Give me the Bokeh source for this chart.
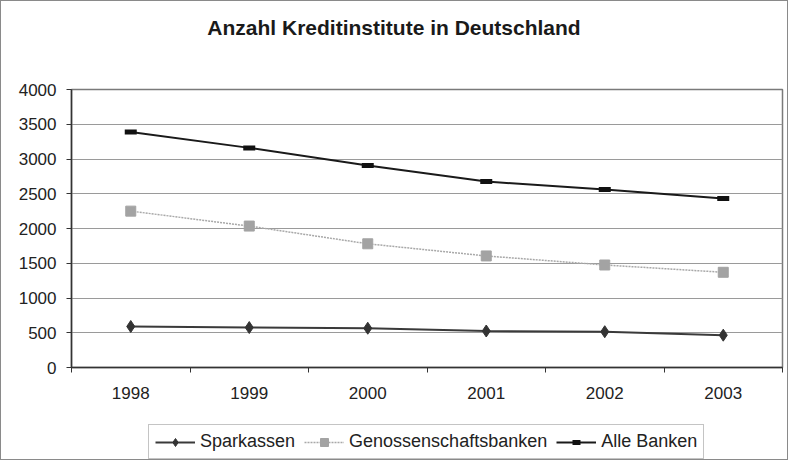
from bokeh.plotting import figure
from bokeh.models import Legend, LegendItem, FixedTicker, Range1d, Div, Column
from bokeh.embed import file_html
from bokeh.resources import INLINE

years = ["1998", "1999", "2000", "2001", "2002", "2003"]
sparkassen = [590, 575, 565, 525, 515, 465]
genossenschaftsbanken = [2250, 2035, 1780, 1605, 1475, 1370]
alle_banken = [3390, 3160, 2905, 2675, 2560, 2430]
y_ticks = [0, 500, 1000, 1500, 2000, 2500, 3000, 3500, 4000]
series_names = ["Sparkassen", "Genossenschaftsbanken", "Alle Banken"]
title_text = "Anzahl Kreditinstitute in Deutschland"

xs = [i + 0.5 for i in range(len(years))]
FONT = "Liberation Sans"
W = 786

title = Div(text=title_text, width=W, height=50, margin=(0, 0, 0, 0),
            styles={"text-align": "center", "font-family": FONT, "font-size": "21px",
                    "font-weight": "bold", "color": "#1a1a1a", "padding-top": "15px",
                    "line-height": "24px", "box-sizing": "border-box"})

p = figure(width=W, height=370, output_backend="svg", toolbar_location=None,
           x_range=Range1d(0, len(years)), y_range=Range1d(0, 4000),
           min_border_left=70, min_border_right=5, min_border_top=38, min_border_bottom=54,
           margin=(0, 0, 0, 0))
p.background_fill_color = "white"
p.border_fill_color = "white"
p.outline_line_color = "#7a7a7a"
p.outline_line_width = 1.5

# axes
p.xaxis.ticker = FixedTicker(ticks=xs, minor_ticks=list(range(len(years) + 1)))
p.xaxis.major_label_overrides = {x: y for x, y in zip(xs, years)}
p.xaxis.major_tick_out = 0
p.xaxis.major_tick_in = 0
p.xaxis.minor_tick_out = 5
p.xaxis.minor_tick_in = 0
p.xaxis.minor_tick_line_color = "#333333"
p.xaxis.major_label_standoff = 14
p.yaxis.ticker = FixedTicker(ticks=y_ticks)
p.yaxis.major_tick_out = 5
p.yaxis.major_tick_in = 0
p.yaxis.minor_tick_line_color = None
p.yaxis.major_label_standoff = 10
for ax in (p.xaxis, p.yaxis):
    ax.axis_line_color = "#333333"
    ax.axis_line_width = 1.5
    ax.major_tick_line_color = "#333333"
    ax.major_label_text_font = FONT
    ax.major_label_text_font_size = "17px"
    ax.major_label_text_color = "#222222"
p.xgrid.grid_line_color = None
p.ygrid.ticker = FixedTicker(ticks=y_ticks)
p.ygrid.grid_line_color = "#9a9a9a"
p.ygrid.grid_line_width = 1

styles = [
    dict(line=dict(line_color="#3a3a3a", line_width=2),
         marker=dict(marker="diamond", size=12, fill_color="#333333", line_color="#333333")),
    dict(line=dict(line_color="#a8a8a8", line_width=1.5, line_dash="2 1"),
         marker=dict(marker="square", size=10, fill_color="#a3a3a3", line_color="#a3a3a3")),
    dict(line=dict(line_color="#1a1a1a", line_width=2),
         marker=dict(marker="dash", size=12, line_color="#111111", line_width=5)),
]
data = [sparkassen, genossenschaftsbanken, alle_banken]

for vals, st in zip(data, styles):
    p.line(xs, vals, **st["line"])
    p.scatter(xs, vals, **st["marker"])

# legend strip (same series, drawn outside its visible range so only the legend shows)
lg = figure(width=W, height=38, output_backend="svg", toolbar_location=None,
            x_range=Range1d(-10, -9), y_range=Range1d(-10, -9),
            x_axis_type=None, y_axis_type=None, min_border=0, margin=(0, 0, 0, 0))
lg.outline_line_color = None
lg.grid.grid_line_color = None
items = []
for name, vals, st in zip(series_names, data, styles):
    r1 = lg.line(xs, vals, **st["line"])
    r2 = lg.scatter(xs, vals, **st["marker"])
    items.append(LegendItem(label=name, renderers=[r1, r2]))

legend = Legend(items=items, orientation="horizontal", location=(77, 0),
                label_text_font=FONT, label_text_font_size="18px", label_text_color="#222222",
                glyph_width=40, glyph_height=20, label_standoff=5, spacing=9,
                padding=6, margin=0, border_line_color="#8a8a8a", border_line_width=1)
lg.add_layout(legend, "center")

layout = Column(children=[title, p, lg], spacing=0,
                styles={"border": "1px solid #8a8a8a", "background-color": "white"})

open("out.html", "w").write(file_html(layout, INLINE))
